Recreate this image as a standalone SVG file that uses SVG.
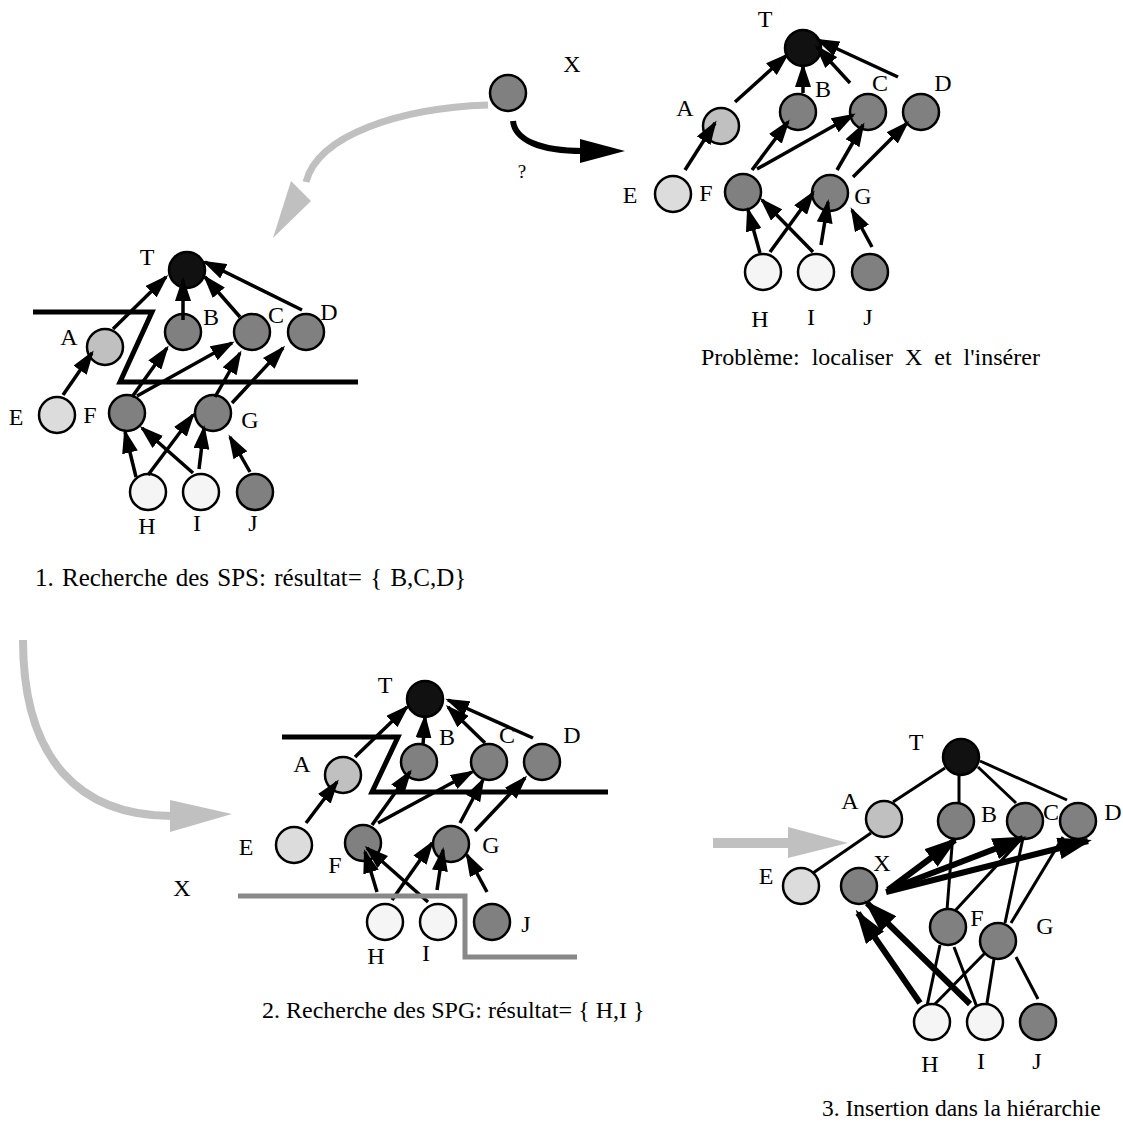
<svg xmlns="http://www.w3.org/2000/svg" width="1123" height="1130" viewBox="0 0 1123 1130">
<style>
text{font-family:"Liberation Serif","Times New Roman",serif;font-size:24px;fill:#000;text-anchor:middle}
.cap{font-size:24px;text-anchor:start}
circle{stroke:#000;stroke-width:2.5}
.top{fill:#111}
.a{fill:#c0c0c0}
.g{fill:#808080}
.e{fill:#dcdcdc}
.w{fill:#f5f5f5}
.arr{stroke:#000;stroke-width:3.5;fill:none;marker-end:url(#ah)}
.big{stroke:#000;stroke-width:6;fill:none;marker-end:url(#ahb)}
.ln{stroke:#000;stroke-width:3;fill:none}
.cut{stroke:#000;stroke-width:5;fill:none}
.cutg{stroke:#888;stroke-width:5;fill:none}
.garr{stroke:#c0c0c0;fill:none}
</style>
<defs>
<marker id="ah" markerUnits="userSpaceOnUse" markerWidth="24" markerHeight="16" refX="21" refY="8" orient="auto"><path d="M0,0 L24,8 L0,16 z" fill="#000"/></marker>
<marker id="ahb" markerUnits="userSpaceOnUse" markerWidth="34" markerHeight="22" refX="30" refY="11" orient="auto"><path d="M0,0 L34,11 L0,22 z" fill="#000"/></marker>
</defs>
<rect width="1123" height="1130" fill="#fff"/>

<g id="transitions">
<path class="garr" stroke-width="7" d="M488,105 C400,108 318,135 306,182"/>
<polygon points="291,181 311,201 273,238" fill="#c0c0c0"/>
<path stroke="#000" stroke-width="6" fill="none" d="M513,121 C515,140 540,151 583,151"/>
<polygon points="580,139 625,151 580,163" fill="#000"/>
<path class="garr" stroke-width="8" d="M23,640 C23,760 80,816 172,816"/>
<polygon points="170,800 232,814 170,832" fill="#c0c0c0"/>
<rect x="713" y="838" width="77" height="10" fill="#c0c0c0"/>
<polygon points="788,827 848,843 788,858" fill="#c0c0c0"/>
</g>

<g id="x-new"><circle class="g" cx="508" cy="93" r="18"/><text x="572" y="72">X</text></g>
<text x="522" y="178" style="font-size:19px">?</text>

<g id="tr-nodes">
<g id="tr-T"><circle class="top" cx="803" cy="48" r="18"/><text x="765" y="27">T</text></g>
<g id="tr-A"><circle class="a" cx="721" cy="126" r="18"/><text x="685" y="116">A</text></g>
<g id="tr-B"><circle class="g" cx="798" cy="112" r="18"/><text x="823" y="97">B</text></g>
<g id="tr-C"><circle class="g" cx="868" cy="112" r="18"/><text x="880" y="91">C</text></g>
<g id="tr-D"><circle class="g" cx="921" cy="112" r="18"/><text x="943" y="91">D</text></g>
<g id="tr-E"><circle class="e" cx="673" cy="194" r="18"/><text x="630" y="203">E</text></g>
<g id="tr-F"><circle class="g" cx="743" cy="192" r="18"/><text x="706" y="201">F</text></g>
<g id="tr-G"><circle class="g" cx="830" cy="193" r="18"/><text x="863" y="204">G</text></g>
<g id="tr-H"><circle class="w" cx="763" cy="272" r="18"/><text x="760" y="327">H</text></g>
<g id="tr-I"><circle class="w" cx="816" cy="272" r="18"/><text x="811" y="325">I</text></g>
<g id="tr-J"><circle class="g" cx="870" cy="272" r="18"/><text x="868" y="325">J</text></g>
</g>
<g id="tr-connectors">
<path class="arr" d="M735,102 L787,55"/>
<path class="arr" d="M685,170 L715,123"/>
<path class="arr" d="M803,93 L803,66"/>
<path class="arr" d="M850,83 L817,47"/>
<path class="arr" d="M898,77 L818,40"/>
<path class="arr" d="M752,170 L788,122"/>
<path class="arr" d="M757,169 L853,115"/>
<path class="arr" d="M837,170 L863,125"/>
<path class="arr" d="M853,177 L907,123"/>
<path class="arr" d="M760,253 L748,210"/>
<path class="arr" d="M770,252 L813,193"/>
<path class="arr" d="M813,252 L762,200"/>
<path class="arr" d="M821,245 L828,202"/>
<path class="arr" d="M872,247 L852,210"/>
</g>
<text class="cap" x="701" y="365" style="word-spacing:6px">Problème: localiser X et l'insérer</text>

<g id="tl-nodes">
<g id="tl-T"><circle class="top" cx="187" cy="270" r="18"/><text x="147" y="265">T</text></g>
<g id="tl-A"><circle class="a" cx="105" cy="347" r="18"/><text x="69" y="345">A</text></g>
<g id="tl-B"><circle class="g" cx="183" cy="332" r="18"/><text x="211" y="325">B</text></g>
<g id="tl-C"><circle class="g" cx="252" cy="332" r="18"/><text x="276" y="323">C</text></g>
<g id="tl-D"><circle class="g" cx="306" cy="332" r="18"/><text x="329" y="320">D</text></g>
<g id="tl-E"><circle class="e" cx="57" cy="415" r="18"/><text x="16" y="425">E</text></g>
<g id="tl-F"><circle class="g" cx="127" cy="413" r="18"/><text x="90" y="423">F</text></g>
<g id="tl-G"><circle class="g" cx="213" cy="413" r="18"/><text x="250" y="428">G</text></g>
<g id="tl-H"><circle class="w" cx="148" cy="492" r="18"/><text x="147" y="534">H</text></g>
<g id="tl-I"><circle class="w" cx="201" cy="492" r="18"/><text x="197" y="531">I</text></g>
<g id="tl-J"><circle class="g" cx="255" cy="492" r="18"/><text x="253" y="531">J</text></g>
</g>
<g id="tl-connectors">
<path class="arr" d="M113,329 L166,277"/>
<path class="arr" d="M63,395 L92,353"/>
<path class="arr" d="M183,320 L183,280"/>
<path class="arr" d="M240,317 L205,277"/>
<path class="arr" d="M302,310 L205,262"/>
<path class="arr" d="M132,397 L167,348"/>
<path class="arr" d="M137,396 L232,343"/>
<path class="arr" d="M215,397 L240,353"/>
<path class="arr" d="M232,403 L283,348"/>
<path class="arr" d="M136,477 L125,432"/>
<path class="arr" d="M148,475 L193,415"/>
<path class="arr" d="M193,473 L142,428"/>
<path class="arr" d="M199,469 L204,428"/>
<path class="arr" d="M250,472 L230,437"/>
<polyline class="cut" points="33,312 152,312 120,382 358,382"/>
</g>
<text class="cap" x="35" y="586" style="font-size:25px;word-spacing:2px">1. Recherche des SPS: résultat= { B,C,D}</text>

<g id="bm-nodes">
<g id="bm-T"><circle class="top" cx="425" cy="699" r="18"/><text x="385" y="693">T</text></g>
<g id="bm-A"><circle class="a" cx="343" cy="775" r="18"/><text x="302" y="772">A</text></g>
<g id="bm-B"><circle class="g" cx="419" cy="762" r="18"/><text x="447" y="745">B</text></g>
<g id="bm-C"><circle class="g" cx="489" cy="762" r="18"/><text x="507" y="743">C</text></g>
<g id="bm-D"><circle class="g" cx="542" cy="762" r="18"/><text x="572" y="743">D</text></g>
<g id="bm-E"><circle class="e" cx="294" cy="845" r="18"/><text x="246" y="855">E</text></g>
<g id="bm-F"><circle class="g" cx="363" cy="843" r="18"/><text x="335" y="873">F</text></g>
<g id="bm-G"><circle class="g" cx="451" cy="844" r="18"/><text x="491" y="853">G</text></g>
<g id="bm-H"><circle class="w" cx="385" cy="922" r="18"/><text x="376" y="964">H</text></g>
<g id="bm-I"><circle class="w" cx="438" cy="922" r="18"/><text x="426" y="961">I</text></g>
<g id="bm-J"><circle class="g" cx="492" cy="922" r="18"/><text x="526" y="932">J</text></g>
</g>
<text x="182" y="896">X</text>
<g id="bm-connectors">
<path class="arr" d="M355,757 L407,707"/>
<path class="arr" d="M306,823 L337,782"/>
<path class="arr" d="M423,745 L425,717"/>
<path class="arr" d="M485,743 L448,707"/>
<path class="arr" d="M533,738 L448,700"/>
<path class="arr" d="M372,825 L410,772"/>
<path class="arr" d="M378,823 L472,772"/>
<path class="arr" d="M460,823 L483,780"/>
<path class="arr" d="M475,831 L525,778"/>
<path class="arr" d="M377,892 L365,852"/>
<path class="arr" d="M392,900 L432,843"/>
<path class="arr" d="M428,902 L367,848"/>
<path class="arr" d="M437,890 L443,850"/>
<path class="arr" d="M487,892 L467,855"/>
<polyline class="cut" points="282,737 398,737 372,792 608,792"/>
<polyline class="cutg" points="238,896 465,896 465,957 577,957"/>
</g>
<text class="cap" x="262" y="1018">2. Recherche des SPG: résultat= { H,I }</text>

<g id="br-connectors">
<path class="ln" d="M945,768 L893,802"/>
<path class="ln" d="M959,775 L959,803"/>
<path class="ln" d="M978,767 L1016,803"/>
<path class="ln" d="M980,761 L1067,800"/>
<path class="ln" d="M871,833 L813,873"/>
<path class="ln" d="M947,910 L953,833"/>
<path class="ln" d="M953,913 L1023,837"/>
<path class="ln" d="M1005,923 L1023,838"/>
<path class="ln" d="M1011,923 L1063,837"/>
<path class="ln" d="M927,1006 L940,945"/>
<path class="ln" d="M933,1006 L985,953"/>
<path class="ln" d="M980,1015 L954,947"/>
<path class="ln" d="M987,1003 L994,959"/>
<path class="ln" d="M1038,999 L1016,957"/>
</g>
<g id="br-nodes">
<g id="br-T"><circle class="top" cx="961" cy="757" r="18"/><text x="916" y="750">T</text></g>
<g id="br-A"><circle class="a" cx="884" cy="819" r="18"/><text x="850" y="809">A</text></g>
<g id="br-B"><circle class="g" cx="956" cy="821" r="18"/><text x="989" y="822">B</text></g>
<g id="br-C"><circle class="g" cx="1025" cy="821" r="18"/><text x="1051" y="820">C</text></g>
<g id="br-D"><circle class="g" cx="1078" cy="821" r="18"/><text x="1113" y="820">D</text></g>
<g id="br-E"><circle class="e" cx="801" cy="886" r="18"/><text x="766" y="884">E</text></g>
<g id="br-X"><circle class="g" cx="859" cy="886" r="18"/><text x="882" y="871">X</text></g>
<g id="br-F"><circle class="g" cx="948" cy="927" r="18"/><text x="977" y="926">F</text></g>
<g id="br-G"><circle class="g" cx="998" cy="941" r="18"/><text x="1045" y="934">G</text></g>
<g id="br-H"><circle class="w" cx="932" cy="1022" r="18"/><text x="930" y="1072">H</text></g>
<g id="br-I"><circle class="w" cx="985" cy="1022" r="18"/><text x="981" y="1069">I</text></g>
<g id="br-J"><circle class="g" cx="1038" cy="1022" r="18"/><text x="1037" y="1069">J</text></g>
</g>
<g id="br-insert-connectors">
<path class="big" d="M888,890 L955,840"/>
<path class="big" d="M888,890 L1023,838"/>
<path class="big" d="M886,892 L1088,841"/>
<path class="big" d="M920,1003 L858,913"/>
<path class="big" d="M970,1004 L867,903"/>
</g>
<text class="cap" x="822" y="1116" style="font-size:23.5px">3. Insertion dans la hiérarchie</text>
</svg>
